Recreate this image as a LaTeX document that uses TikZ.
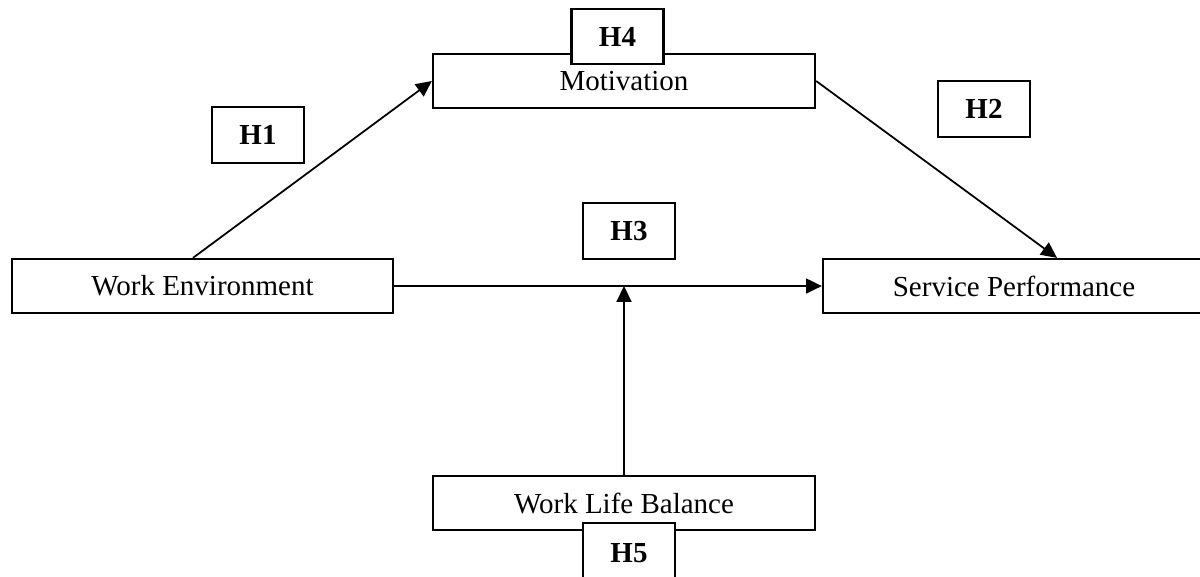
\documentclass[tikz,border=0pt]{standalone}
\usepackage{fontspec}
\setmainfont{Liberation Serif}
\usetikzlibrary{arrows.meta,calc}
\begin{document}
\begin{tikzpicture}[x=0.02cm,y=-0.02cm,
  varbox/.style={draw,line width=1.3pt,fill=white,inner sep=0pt,minimum width=382*0.02cm,minimum height=54*0.02cm,font=\fontsize{16.5}{18}\selectfont},
  hbox/.style={draw,line width=1.2pt,fill=white,inner sep=0pt,minimum width=92*0.02cm,minimum height=56*0.02cm,font=\fontsize{16.5}{18}\selectfont\bfseries},
  arr/.style={line width=1pt,-{Triangle[length=9pt,width=8.5pt]}}]
\useasboundingbox (0,0) rectangle (1200,576);
\clip (0,0) rectangle (1200,576);
% variable boxes
\node[varbox] (MOT) at (624,81) {\raisebox{-2pt}{Motivation}};
\node[hbox,minimum height=55*0.02cm] (H4) at (617.5,36.5) {H4};
\node[varbox,minimum width=381*0.02cm] (WE) at (202.5,286) {Work Environment};
\node[varbox] (SP) at (1014,286) {Service Performance};
\node[varbox] (WLB) at (624,503) {\raisebox{-2pt}{Work Life Balance}};
\node[hbox,minimum height=60*0.02cm] (H5) at (629,553) {H5};
% hypothesis labels
\node[hbox] (H1) at (258,135) {H1};
\node[hbox] (H2) at (984,109) {H2};
\node[hbox] (H3) at (629,231) {H3};
% connectors
\coordinate (weTop) at ([xshift=-0.19cm]WE.north);
\coordinate (spTop) at ([xshift=0.86cm]SP.north);
\coordinate (join) at (WLB.north |- WE.east);
\draw[arr] (weTop) -- (MOT.west);
\draw[arr] (MOT.east) -- (spTop);
\draw[arr] (WE.east) -- (SP.west);
\draw[arr] (WLB.north) -- (join);
\end{tikzpicture}
\end{document}
